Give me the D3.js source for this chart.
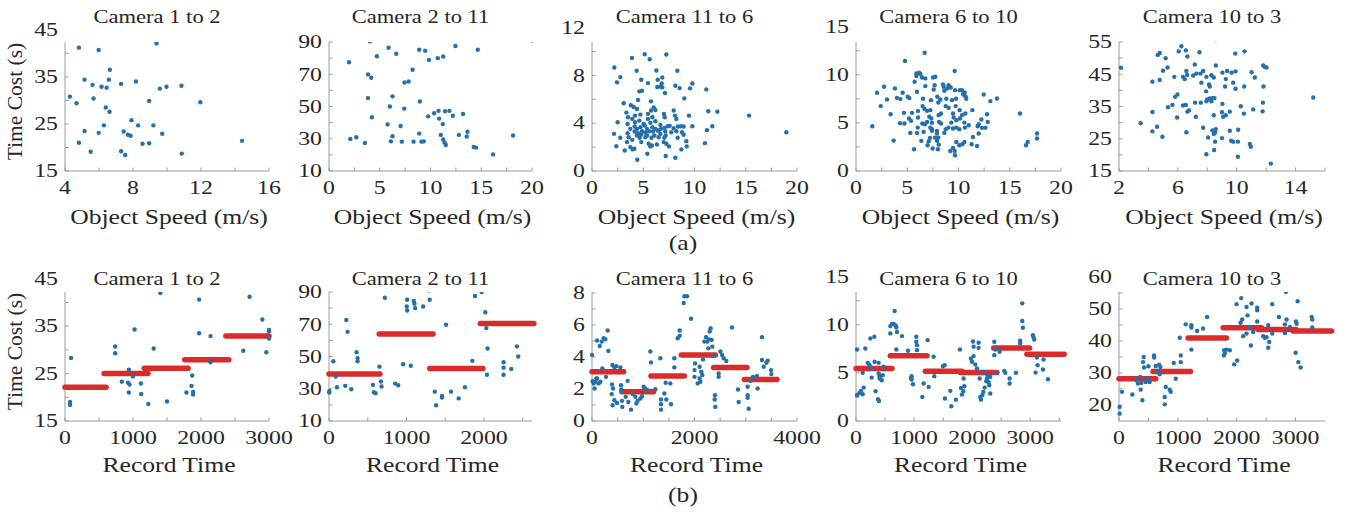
<!DOCTYPE html>
<html><head><meta charset="utf-8">
<script src="https://cdn.jsdelivr.net/npm/d3@7"></script>
<style>body{margin:0;background:#fff}svg{display:block}text{font-family:"Liberation Serif","Times New Roman",serif;fill:#262626}</style>
</head><body><svg id="c" width="1351" height="512"></svg>
<script>
const titles = ["Camera 1 to 2","Camera 2 to 11","Camera 11 to 6","Camera 6 to 10","Camera 10 to 3"];
const xLabelA = "Object Speed (m/s)", xLabelB = "Record Time", yLabel = "Time Cost (s)";
const panelTags = ["(a)","(b)"];

// (a) object speed (m/s) vs time cost (s)
const a_1_2 = [[4.82,41.2],[5.98,40.7],[9.38,42.1],[6.64,36.5],[5.15,34.4],[5.62,33.3],[6.15,32.9],[6.45,32.7],[6.58,34.4],[7.3,33.5],[8.17,34.0],[9.58,32.5],[9.97,32.9],[10.85,33.1],[4.29,30.8],[4.68,29.4],[5.68,30.4],[6.4,28.5],[6.62,27.6],[8.95,29.9],[11.96,29.6],[7.91,25.8],[6.29,24.7],[8.3,24.7],[9.2,24.7],[5.15,23.5],[5.98,23.1],[7.45,23.4],[7.7,22.7],[7.86,22.5],[9.72,22.9],[4.82,21.0],[8.56,20.8],[8.95,20.9],[14.41,21.4],[5.51,19.1],[7.3,19.2],[7.54,18.4],[10.87,18.7]];
const a_2_11 = [[4.03,90.4],[7.64,92.5],[5.87,86.4],[6.62,82.7],[4.72,81.2],[8.89,85.2],[9.48,84.6],[12.46,87.5],[14.66,85.2],[20.0,91.0],[1.97,77.4],[9.84,78.9],[10.72,80.0],[11.25,81.0],[8.23,72.8],[3.84,69.9],[4.16,67.8],[7.44,64.9],[7.84,65.5],[3.84,55.2],[6.26,56.3],[6.0,50.0],[7.41,48.7],[8.95,53.1],[4.23,43.3],[9.77,43.9],[10.36,45.8],[10.79,47.3],[11.44,47.1],[11.87,47.3],[12.2,44.3],[13.21,45.4],[10.85,42.5],[11.21,39.1],[5.77,38.9],[7.05,37.9],[2.1,29.9],[2.69,30.9],[3.54,27.4],[6.26,31.6],[6.1,28.4],[7.18,28.2],[8.33,28.2],[8.89,33.2],[9.11,28.2],[9.34,28.4],[11.02,32.4],[11.25,29.5],[11.38,27.6],[11.51,26.1],[12.79,32.4],[13.57,31.4],[13.64,34.3],[14.26,24.9],[14.49,24.5],[16.16,20.3],[18.13,32.0]];
const a_11_6 = [[5.14,9.78],[7.25,9.75],[3.9,9.47],[5.63,9.36],[2.18,8.67],[4.36,8.39],[6.28,8.42],[8.33,8.39],[2.76,7.86],[2.44,7.42],[4.81,7.64],[5.46,7.36],[6.41,7.64],[6.86,7.83],[6.8,7.33],[9.79,7.33],[9.56,6.92],[8.55,6.94],[8.13,7.14],[6.37,7.03],[6.7,7.06],[6.86,7.0],[4.62,6.67],[4.88,6.72],[7.12,6.53],[11.15,6.83],[9.01,6.08],[4.49,5.94],[3.09,5.67],[3.8,5.5],[4.07,5.36],[4.39,5.19],[5.76,5.83],[6.02,5.33],[6.18,5.11],[5.76,5.06],[7.97,5.06],[11.35,5.0],[12.23,4.97],[15.32,4.64],[18.96,3.25],[3.35,4.89],[4.2,4.64],[4.72,4.72],[5.46,4.78],[5.89,4.5],[7.02,4.78],[7.09,4.5],[8.1,4.64],[8.23,4.36],[9.46,4.64],[3.51,4.5],[2.5,4.08],[3.48,3.94],[3.93,4.36],[4.2,4.08],[4.62,4.22],[5.04,3.94],[5.46,4.36],[5.69,4.03],[6.18,4.17],[6.67,3.86],[7.58,3.78],[9.79,3.75],[11.74,3.75],[11.22,3.42],[3.74,3.53],[4.16,3.72],[4.39,3.53],[4.72,3.67],[5.14,3.81],[5.37,3.53],[5.89,3.67],[6.18,3.53],[6.41,3.39],[6.73,3.53],[7.06,3.61],[7.38,3.75],[7.97,3.58],[8.39,3.72],[8.68,3.75],[8.94,3.72],[2.15,3.11],[3.48,3.17],[4.16,3.31],[4.49,3.17],[4.88,3.33],[5.2,3.22],[5.56,3.33],[5.95,3.31],[6.5,3.39],[7.15,3.31],[7.74,3.25],[8.23,3.33],[8.78,3.25],[4.39,2.97],[4.81,3.06],[5.37,2.97],[6.08,2.97],[6.67,3.11],[7.19,2.97],[8.94,3.03],[2.76,2.78],[3.58,2.83],[4.65,2.78],[5.2,2.83],[5.8,2.78],[6.5,2.83],[7.06,2.78],[8.36,2.78],[9.2,2.5],[3.41,2.42],[3.93,2.61],[4.81,2.42],[5.53,2.28],[5.85,2.14],[5.69,2.06],[6.34,2.22],[6.99,2.42],[7.25,2.28],[7.51,2.06],[2.37,2.08],[3.74,2.0],[3.97,1.81],[3.19,1.72],[4.13,1.86],[9.24,2.06],[8.72,1.81],[11.02,2.33],[5.4,1.44],[7.19,1.25],[8.13,1.11],[4.42,0.94]];
const a_6_10 = [[6.7,12.29],[4.78,11.42],[9.63,10.38],[5.89,10.14],[6.15,10.21],[6.28,10.07],[5.89,9.86],[6.44,9.72],[6.76,9.62],[5.72,9.27],[7.51,9.72],[7.74,9.79],[7.67,8.92],[6.76,8.82],[8.49,9.0],[8.55,8.75],[9.04,8.92],[9.24,8.68],[9.66,8.4],[10.11,8.4],[10.34,8.4],[10.6,8.16],[10.44,7.99],[10.7,7.71],[10.57,7.88],[2.05,8.13],[2.73,8.75],[3.8,8.58],[4.55,8.13],[5.95,8.23],[7.58,8.47],[8.62,8.33],[8.91,8.58],[12.46,7.95],[3.02,7.43],[3.99,7.6],[4.33,7.47],[5.04,7.71],[5.2,7.57],[6.54,7.5],[7.32,7.36],[7.93,7.71],[8.23,7.43],[8.03,7.12],[8.81,7.5],[9.37,7.36],[9.76,7.5],[10.76,7.5],[13.11,7.26],[13.76,7.53],[2.41,6.74],[6.5,6.74],[6.67,6.46],[8.75,6.74],[9.04,6.56],[9.72,6.74],[10.11,6.32],[11.35,6.32],[3.38,5.9],[4.68,6.04],[5.46,6.04],[6.05,6.22],[6.93,6.25],[7.25,6.32],[9.46,5.97],[10.34,5.8],[10.67,5.97],[12.78,5.9],[16.0,5.97],[5.17,5.45],[6.05,5.56],[7.15,5.63],[7.35,5.45],[8.07,5.8],[8.29,5.97],[9.53,5.56],[10.14,5.45],[12.23,5.35],[4.29,4.97],[4.72,4.93],[5.37,5.21],[6.47,4.93],[6.72,4.86],[6.93,5.1],[7.41,5.0],[8.1,5.1],[8.29,4.93],[9.3,5.03],[9.79,5.28],[10.57,5.03],[11.0,4.76],[11.97,4.86],[12.85,5.1],[1.59,4.65],[6.02,4.51],[7.25,4.51],[7.41,4.34],[8.75,4.34],[9.01,4.51],[9.46,4.41],[9.79,4.51],[10.08,4.34],[10.63,4.51],[11.87,4.65],[12.29,4.48],[12.62,4.48],[5.3,3.96],[5.95,3.96],[6.6,4.06],[7.41,4.17],[7.9,4.17],[7.9,3.89],[8.62,3.96],[11.97,3.89],[17.66,3.89],[17.66,3.37],[7.22,3.44],[7.71,3.47],[8.03,3.47],[11.41,3.54],[3.67,3.16],[6.37,3.13],[7.09,3.09],[7.9,3.13],[9.79,3.02],[10.57,3.02],[16.75,3.02],[16.59,2.67],[6.99,2.67],[8.07,2.74],[10.08,2.67],[10.37,2.78],[11.28,2.78],[11.8,2.6],[5.66,2.26],[7.48,2.33],[8.0,2.26],[9.46,2.4],[9.63,2.08],[9.66,1.63],[9.2,2.08]];
const a_10_3 = [[8.58,55.6],[6.24,53.7],[4.77,51.6],[4.63,51.0],[6.06,52.1],[6.54,52.4],[7.47,51.8],[9.9,51.4],[10.53,52.1],[5.17,50.0],[6.65,50.5],[2.14,47.0],[5.3,47.1],[4.99,46.1],[7.15,48.0],[8.58,47.7],[11.8,47.7],[12.03,47.1],[11.9,47.3],[4.77,43.2],[4.27,42.7],[5.76,44.2],[6.35,44.2],[6.47,43.5],[6.58,46.0],[6.63,44.8],[7.04,44.6],[7.26,45.2],[7.54,45.2],[7.72,46.0],[7.94,44.2],[8.28,44.7],[8.44,44.0],[9.03,45.5],[9.35,46.0],[9.65,45.5],[9.92,45.9],[9.26,43.5],[9.76,42.4],[9.92,40.5],[10.51,41.2],[11.01,45.6],[11.23,44.0],[11.82,41.2],[7.6,42.4],[8.12,41.8],[8.17,41.2],[7.92,39.7],[9.21,41.2],[5.81,38.0],[5.97,38.7],[7.99,37.2],[8.17,37.5],[8.35,37.6],[8.49,37.6],[8.28,36.6],[7.94,36.6],[7.56,36.2],[7.17,36.2],[9.03,35.8],[15.2,37.8],[4.27,33.3],[5.33,34.8],[5.63,35.5],[6.35,35.3],[6.54,35.5],[6.65,33.4],[6.76,33.8],[5.95,31.6],[7.22,31.8],[8.44,32.3],[9.0,33.2],[9.08,31.8],[9.26,32.3],[9.53,33.4],[10.28,35.1],[10.49,32.8],[11.12,34.1],[11.76,33.5],[11.78,36.2],[3.47,29.8],[4.59,28.7],[4.27,27.3],[7.72,28.4],[6.58,27.0],[4.95,25.6],[8.06,25.4],[8.35,27.6],[8.53,26.9],[8.44,26.5],[8.58,28.0],[8.53,24.1],[9.0,25.2],[9.53,27.5],[9.62,24.4],[9.76,24.1],[10.1,27.8],[10.08,24.1],[10.89,23.4],[10.96,22.5],[8.47,21.5],[7.94,20.2],[10.08,19.4],[12.32,17.3]];

// (b) record time vs time cost (s)
const b_1_2 = [[1402,42.0],[1972,40.6],[2715,41.2],[1023,34.3],[1972,33.5],[2140,32.9],[2902,36.4],[3000,34.2],[3000,33.9],[3000,32.4],[738,30.7],[738,29.3],[1304,30.3],[2622,29.8],[2961,29.5],[89,28.3],[2140,27.4],[939,25.8],[998,24.4],[1870,24.6],[836,23.3],[925,23.1],[949,22.7],[1117,22.9],[1860,22.4],[939,21.0],[1121,20.7],[1786,21.0],[1884,21.1],[1884,20.6],[74,19.0],[74,18.4],[1225,18.6],[1500,19.1]];
const b_2_11 = [[4,28.6],[4,27.6],[56,47.1],[86,37.6],[103,30.9],[210,31.8],[223,72.6],[240,65.3],[288,29.7],[356,52.7],[369,49.0],[369,47.1],[567,32.4],[579,27.8],[601,27.2],[652,43.7],[670,34.5],[678,31.4],[721,86.4],[854,33.2],[893,32.2],[957,45.2],[1009,85.2],[1004,81.0],[1009,78.5],[1056,44.3],[1094,84.4],[1103,82.7],[1112,80.0],[1215,81.0],[1288,91.0],[1300,85.2],[1365,28.2],[1382,19.8],[1459,25.5],[1459,24.5],[1511,69.7],[1575,28.2],[1674,24.0],[1755,30.9],[1850,47.3],[1884,87.5],[1970,90.0],[2017,77.4],[2030,67.6],[2047,55.0],[2039,38.7],[2253,46.4],[2253,43.1],[2253,38.7],[2288,92.5],[2352,42.3],[2425,56.3],[2442,50.0]];
const b_11_6 = [[0,4.13],[13,2.49],[33,2.35],[52,2.03],[65,2.45],[85,2.66],[98,5.03],[130,2.35],[163,2.45],[150,4.69],[189,4.96],[98,2.66],[228,5.17],[260,5.11],[202,3.29],[273,2.76],[306,5.65],[319,4.38],[397,3.5],[436,3.35],[390,2.28],[410,2.03],[384,1.68],[436,1.3],[403,0.98],[488,1.13],[475,3.43],[553,3.35],[566,2.24],[572,1.97],[585,1.82],[585,1.26],[592,0.88],[657,1.51],[696,2.51],[709,1.19],[761,0.71],[793,1.68],[846,1.51],[865,1.09],[891,1.26],[943,1.4],[976,1.55],[1008,2.14],[1041,2.03],[1086,1.93],[1138,4.34],[1151,3.66],[1236,1.99],[1333,3.92],[1346,1.34],[1346,1.05],[1346,0.71],[1411,1.72],[1437,2.39],[1450,1.34],[1528,2.35],[1541,1.05],[1606,3.35],[1606,3.92],[1672,5.17],[1711,5.65],[1711,5.32],[1802,7.79],[1854,7.79],[1789,7.37],[1932,6.39],[2010,3.6],[2000,3.18],[2000,2.76],[2062,2.35],[2101,3.39],[2101,2.66],[2114,2.45],[2133,3.08],[2153,2.87],[2166,3.85],[2192,4.96],[2224,5.24],[2250,4.96],[2270,4.54],[2283,5.1],[2296,5.59],[2315,5.8],[2335,5.07],[2348,4.65],[2361,4.06],[2400,1.61],[2394,1.34],[2407,0.88],[2504,4.34],[2537,4.13],[2569,3.92],[2472,2.97],[2472,2.76],[2621,3.75],[2732,5.84],[2849,1.97],[2862,1.19],[3037,2.14],[3037,1.61],[3037,1.45],[3057,0.77],[3089,2.51],[3141,2.76],[3232,2.03],[3219,2.81],[3317,5.24],[3317,3.81],[3350,3.39],[3402,3.64],[3428,3.77],[3493,3.18],[3499,2.93]];
const b_6_10 = [[17,7.43],[17,2.67],[57,2.92],[86,3.13],[115,2.78],[132,3.47],[115,5.0],[161,7.53],[201,6.04],[235,5.8],[247,8.58],[281,5.45],[321,6.15],[316,8.75],[270,4.51],[338,3.09],[379,2.26],[396,2.08],[390,6.04],[390,4.93],[407,4.65],[407,4.41],[442,4.24],[459,4.76],[476,5.63],[591,9.1],[591,9.86],[620,10.07],[648,10.07],[666,11.42],[683,9.93],[695,9.72],[706,9.24],[792,8.82],[695,7.43],[895,7.29],[947,4.48],[958,4.65],[958,4.31],[981,3.82],[1038,8.75],[1038,8.23],[1050,7.88],[1050,7.36],[1142,2.5],[1165,3.89],[1234,8.4],[1251,3.54],[1337,6.67],[1348,4.65],[1497,5.69],[1526,5.8],[1532,2.33],[1624,3.13],[1641,1.53],[1721,2.22],[1790,7.43],[1807,3.44],[1824,2.74],[1847,3.09],[1853,4.41],[1865,3.61],[1979,6.49],[1997,6.15],[2014,8.26],[2025,7.71],[2025,6.74],[2054,5.87],[2083,5.45],[2111,8.13],[2111,7.6],[2129,4.41],[2140,2.5],[2151,2.22],[2174,2.67],[2192,3.02],[2197,5.1],[2215,3.47],[2243,4.13],[2255,4.41],[2266,4.76],[2283,4.06],[2295,3.72],[2312,2.85],[2312,4.58],[2381,8.23],[2398,7.43],[2381,6.84],[2473,7.19],[2398,5.0],[2553,5.21],[2570,5.0],[2645,4.41],[2645,3.89],[2754,5.0],[2828,8.33],[2828,8.06],[2863,12.22],[2863,10.38],[2874,9.69],[3046,8.92],[3058,8.68],[3069,8.47],[3115,6.6],[3127,5.8],[3092,5.03],[3230,6.39],[3219,5.35],[3305,4.34]];
const b_10_3 = [[11,19.4],[11,17.3],[51,24.1],[227,23.3],[295,27.7],[323,26.7],[363,28.8],[369,24.8],[380,26.9],[397,21.5],[408,33.4],[420,35.0],[425,31.7],[454,27.2],[476,28.2],[499,32.1],[522,27.2],[596,34.8],[596,35.5],[624,32.2],[652,30.6],[681,32.6],[692,29.6],[703,31.9],[777,22.5],[777,20.2],[794,25.6],[862,24.8],[879,24.1],[930,33.1],[964,28.2],[1032,41.0],[1049,33.4],[1049,35.5],[1134,45.2],[1230,44.9],[1230,44.2],[1230,37.3],[1327,43.1],[1429,43.9],[1497,47.5],[1787,37.1],[1781,35.5],[1798,36.2],[1826,37.3],[1883,37.1],[1957,32.7],[1997,51.5],[2008,33.9],[2065,45.7],[2076,53.4],[2093,46.7],[2110,41.5],[2167,42.3],[2167,50.6],[2184,48.0],[2223,44.4],[2240,38.6],[2252,51.7],[2280,42.8],[2348,50.4],[2348,49.6],[2348,46.1],[2450,41.5],[2478,41.0],[2507,41.2],[2535,44.9],[2535,37.9],[2552,39.7],[2603,51.5],[2603,42.3],[2717,47.5],[2819,45.2],[2836,55.3],[2819,42.5],[2847,46.7],[2904,44.4],[3006,46.1],[3018,45.4],[3035,52.4],[3001,36.3],[3046,33.4],[3086,31.7],[3273,47.5],[3284,46.7],[3284,44.2]];

// step segments: [start, end, mean time cost]
const seg_1_2 = [[0,605,22.1],[576,1220,25.0],[1166,1810,26.1],[1761,2410,27.9],[2366,3000,32.9]];
const seg_2_11 = [[0,657,39.2],[648,1343,64.0],[1300,1987,42.5],[1953,2644,70.5]];
const seg_11_6 = [[0,618,3.08],[585,1203,1.82],[1151,1802,2.81],[1743,2407,4.13],[2374,3024,3.35],[2972,3610,2.6]];
const seg_6_10 = [[0,620,5.45],[591,1222,6.77],[1193,1824,5.17],[1796,2427,5.03],[2370,2989,7.57],[2943,3586,6.94]];
const seg_10_3 = [[0,624,28.2],[579,1214,30.5],[1174,1826,40.9],[1770,2422,44.1],[2365,3006,43.6],[2961,3613,43.1]];

const scatterA = [a_1_2,a_2_11,a_11_6,a_6_10,a_10_3];
const scatterB = [b_1_2,b_2_11,b_11_6,b_6_10,b_10_3];
const segsB = [seg_1_2,seg_2_11,seg_11_6,seg_6_10,seg_10_3];

const xDomA = [[4,16],[0,20],[0,20],[0,20],[2,16]];
const xTicksA = [[4,8,12,16],[0,5,10,15,20],[0,5,10,15,20],[0,5,10,15,20],[2,6,10,14]];
const xMinorA = [[6,10,14],[2.5,7.5,12.5,17.5],[2.5,7.5,12.5,17.5],[2.5,7.5,12.5,17.5],[4,8,12,16]];
const yDomA = [[15,42.4],[10,90],[0,10.8],[0,13.4],[15,55]];
const yTicksA = [[15,25,35,45],[10,30,50,70,90],[0,4,8,12],[0,5,10,15],[15,25,35,45,55]];
const yMinorA = [[20,30,40],[20,40,60,80],[2,6,10],[2.5,7.5,12.5],[20,30,40,50]];

const xDomB = [[0,3000],[0,2620],[0,4000],[0,3530],[0,3500]];
const xTicksB = [[0,1000,2000,3000],[0,1000,2000],[0,2000,4000],[0,1000,2000,3000],[0,1000,2000,3000]];
const xMinorB = [[500,1500,2500],[500,1500,2500],[500,1000,1500,2500,3000,3500],[500,1500,2500,3500],[500,1500,2500]];
const yDomB = [[15,42.2],[10,90],[0,8.06],[0,13.4],[15,55.3]];
const yTicksB = [[15,25,35,45],[10,30,50,70,90],[0,2,4,6,8],[0,5,10,15],[20,30,40,50,60]];
const yMinorB = [[20,30,40],[20,40,60,80],[1,3,5,7],[2.5,7.5,12.5],[25,35,45,55]];

// ---- layout / style ----
const colX0 = [65,329,592,856,1119], colX1 = [269,532,797,1061,1325];
const rowBottom = [171,421], rowTop = [42,292];
const SX = 1.22;
const dotColor = "#2470ac", segColor = "#dc2a2a", axisColor = "#9a9a9a";

const svg = d3.select("#c");

function txt(g, x, y, s, size, anchor, rot) {
  const t = g.append("text")
    .attr("transform", rot ? `translate(${x},${y}) rotate(-90) scale(1,${1})` : `translate(${x},${y}) scale(${SX},1)`)
    .attr("text-anchor", anchor || "middle")
    .attr("dominant-baseline", "central")
    .style("font-size", size + "px")
    .text(s);
  return t;
}

function panel(row, col, pts, xDom, xTicks, xMinor, yDom, yTicks, yMinor, segs) {
  const g = svg.append("g");
  const x0 = colX0[col], x1 = colX1[col], yb = rowBottom[row], yt = rowTop[row];
  const x = d3.scaleLinear().domain(xDom).range([x0, x1]);
  const y = d3.scaleLinear().domain(yDom).range([yb, yt]);
  const id = `clip${row}${col}`;
  svg.append("clipPath").attr("id", id).append("rect")
    .attr("x", x0 - 6).attr("y", yt).attr("width", x1 - x0 + 12).attr("height", yb - yt + 6);

  // axes lines
  g.append("line").attr("x1", x0).attr("x2", x0).attr("y1", yb).attr("y2", yt).attr("stroke", axisColor).attr("stroke-width", 1);
  g.append("line").attr("x1", x0).attr("x2", x1).attr("y1", yb).attr("y2", yb).attr("stroke", axisColor).attr("stroke-width", 1);
  // ticks (inward)
  const yt2 = yTicks.concat(yMinor).filter(v => v >= yDom[0] && v <= yDom[1] + 1e-9);
  g.selectAll(null).data(yt2).join("line")
    .attr("x1", x0).attr("x2", x0 + 3.5).attr("y1", d => y(d)).attr("y2", d => y(d))
    .attr("stroke", axisColor);
  const xt2 = xTicks.concat(xMinor).filter(v => v >= xDom[0] && v <= xDom[1] + 1e-9);
  g.selectAll(null).data(xt2).join("line")
    .attr("y1", yb).attr("y2", yb - 3.5).attr("x1", d => x(d)).attr("x2", d => x(d))
    .attr("stroke", axisColor);
  // tick labels
  yTicks.forEach(v => txt(g, x0 - 7, y(v), String(v), 19.5, "end"));
  xTicks.forEach(v => txt(g, x(v), yb + 17, String(v), 19.5, "middle"));

  // segments
  if (segs) {
    g.selectAll(null).data(segs).join("line")
      .attr("x1", d => x(d[0])).attr("x2", d => x(d[1]))
      .attr("y1", d => y(d[2])).attr("y2", d => y(d[2]))
      .attr("stroke", segColor).attr("stroke-width", 5.5).attr("stroke-linecap", "round");
  }
  // dots
  g.append("g").attr("clip-path", `url(#${id})`).selectAll("circle").data(pts).join("circle")
    .attr("cx", d => x(d[0])).attr("cy", d => y(d[1])).attr("r", 2.2).attr("fill", dotColor);

  // title
  txt(g, (x0 + x1) / 2 - 10, row === 0 ? 17 : 279, titles[col], 18.5, "middle");
  // x label
  txt(g, (x0 + x1) / 2 + 2, row === 0 ? 217 : 465, row === 0 ? xLabelA : xLabelB, 21, "middle");
  if (col === 0) txt(g, 15, (yb + yt) / 2 - 5, yLabel, 21.5, "middle", true);
}

for (let c = 0; c < 5; c++) {
  panel(0, c, scatterA[c], xDomA[c], xTicksA[c], xMinorA[c], yDomA[c], yTicksA[c], yMinorA[c], null);
  panel(1, c, scatterB[c], xDomB[c], xTicksB[c], xMinorB[c], yDomB[c], yTicksB[c], yMinorB[c], segsB[c]);
}
txt(svg, 683, 243, panelTags[0], 21, "middle");
txt(svg, 683, 495, panelTags[1], 21, "middle");
</script>
</body></html>
